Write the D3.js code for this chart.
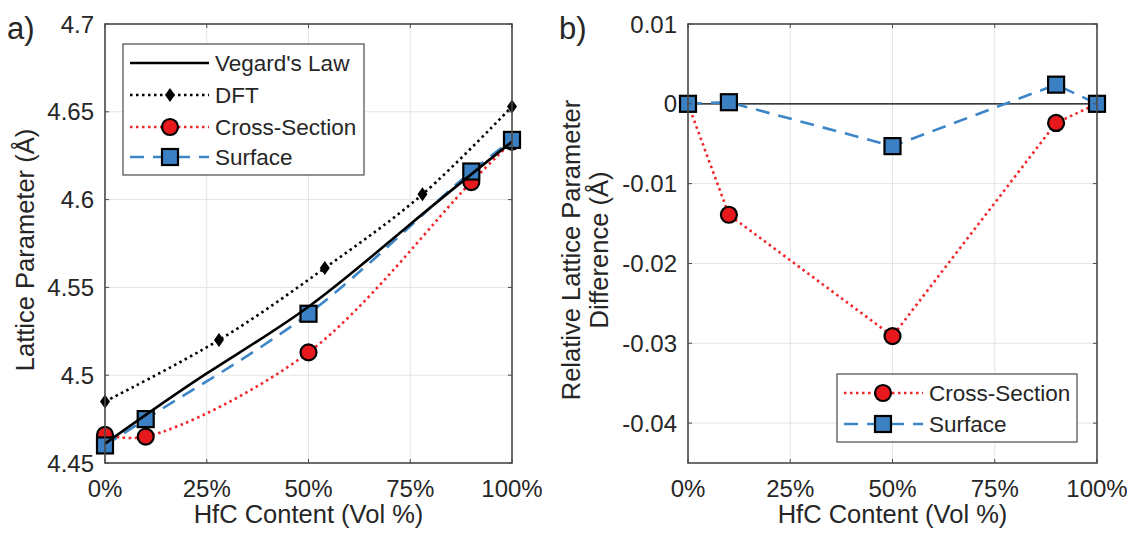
<!DOCTYPE html>
<html>
<head>
<meta charset="utf-8">
<script src="https://cdn.jsdelivr.net/npm/d3@7"></script>
<style>
  body { margin: 0; background: #fff; }
  text { font-family: "Liberation Sans", Arial, Helvetica, sans-serif; fill: #262626; }
</style>
</head>
<body>
<div id="chart"></div>
<script>
// ---- data ----
var xTicks = [0, 25, 50, 75, 100];
var xTickLabels = ["0%", "25%", "50%", "75%", "100%"];

var vegardX = [0, 25, 50, 75, 100];
var vegardY = [4.461, 4.501, 4.539, 4.586, 4.633];

var dftX = [0, 28, 54, 78, 100];
var dftY = [4.485, 4.520, 4.561, 4.603, 4.653];

var sampleX = [0, 10, 50, 90, 100];
var crossY = [4.466, 4.465, 4.513, 4.610, 4.633];
var surfaceY = [4.460, 4.475, 4.535, 4.616, 4.634];

var crossDiff = [0, -0.0139, -0.0291, -0.0024, 0];
var surfaceDiff = [0, 0.0002, -0.0053, 0.0024, 0];

var leftYTicks = [4.45, 4.5, 4.55, 4.6, 4.65, 4.7];
var leftYLabels = ["4.45", "4.5", "4.55", "4.6", "4.65", "4.7"];
var rightYTicks = [0.01, 0, -0.01, -0.02, -0.03, -0.04];
var rightYLabels = ["0.01", "0", "-0.01", "-0.02", "-0.03", "-0.04"];

var RED = "#e8191c", REDLINE = "#f2262a", BLUE = "#3a80c2", BLUELINE = "#3c86c8";
var DOTS = "2.5,3.5", DASH = "14,9";

var svg = d3.select("#chart").append("svg").attr("width", 1130).attr("height", 536);

function zip(xs, ys) { return xs.map(function(x, i) { return [x, ys[i]]; }); }

function drawGrid(g, x, y, yTicks) {
  var x0 = x.range()[0], x1 = x.range()[1], yb = y.range()[0], yt = y.range()[1];
  g.selectAll(".gx").data(xTicks).enter().append("line")
    .attr("x1", function(d) { return x(d); }).attr("x2", function(d) { return x(d); })
    .attr("y1", yt).attr("y2", yb).attr("stroke", "#e4e4e4").attr("stroke-width", 1);
  g.selectAll(".gy").data(yTicks).enter().append("line")
    .attr("y1", function(d) { return y(d); }).attr("y2", function(d) { return y(d); })
    .attr("x1", x0).attr("x2", x1).attr("stroke", "#e4e4e4").attr("stroke-width", 1);
}

function drawFrame(g, x, y, yTicks, yLabels) {
  var x0 = x.range()[0], x1 = x.range()[1], yb = y.range()[0], yt = y.range()[1];
  var tl = 4;
  g.append("rect").attr("x", x0).attr("y", yt).attr("width", x1 - x0).attr("height", yb - yt)
    .attr("fill", "none").attr("stroke", "#4a4a4a").attr("stroke-width", 1.6);
  xTicks.forEach(function(d) {
    g.append("line").attr("x1", x(d)).attr("x2", x(d)).attr("y1", yb).attr("y2", yb - tl).attr("stroke", "#4a4a4a");
    g.append("line").attr("x1", x(d)).attr("x2", x(d)).attr("y1", yt).attr("y2", yt + tl).attr("stroke", "#4a4a4a");
  });
  yTicks.forEach(function(d) {
    g.append("line").attr("y1", y(d)).attr("y2", y(d)).attr("x1", x0).attr("x2", x0 + tl).attr("stroke", "#4a4a4a");
    g.append("line").attr("y1", y(d)).attr("y2", y(d)).attr("x1", x1).attr("x2", x1 - tl).attr("stroke", "#4a4a4a");
  });
  g.selectAll(".xl").data(xTicks).enter().append("text")
    .attr("x", function(d) { return x(d); }).attr("y", 497)
    .attr("text-anchor", "middle").attr("font-size", 24)
    .text(function(d, i) { return xTickLabels[i]; });
  g.selectAll(".yl").data(yTicks).enter().append("text")
    .attr("x", x0 - 11).attr("y", function(d) { return y(d) + 8.5; })
    .attr("text-anchor", "end").attr("font-size", 24)
    .text(function(d, i) { return yLabels[i]; });
  g.append("text").attr("x", (x0 + x1) / 2).attr("y", 523)
    .attr("text-anchor", "middle").attr("font-size", 25.5).text("HfC Content (Vol %)");
}

function circle(g, cx, cy) {
  g.append("circle").attr("cx", cx).attr("cy", cy).attr("r", 8)
    .attr("fill", RED).attr("stroke", "#000").attr("stroke-width", 2.2);
}
function square(g, cx, cy) {
  g.append("rect").attr("x", cx - 8).attr("y", cy - 8).attr("width", 16).attr("height", 16)
    .attr("fill", BLUE).attr("stroke", "#000").attr("stroke-width", 2.2);
}
function diamond(g, cx, cy) {
  g.append("path").attr("d", "M" + cx + "," + (cy - 7) + "L" + (cx + 5) + "," + cy + "L" + cx + "," + (cy + 7) + "L" + (cx - 5) + "," + cy + "Z")
    .attr("fill", "#000");
}

// ---- left panel ----
var xa = d3.scaleLinear().domain([0, 100]).range([105, 512]);
var ya = d3.scaleLinear().domain([4.45, 4.7]).range([463, 24]);
var ga = svg.append("g");
drawGrid(ga, xa, ya, leftYTicks);

var curveLine = d3.line().x(function(d) { return xa(d[0]); }).y(function(d) { return ya(d[1]); }).curve(d3.curveCatmullRom.alpha(0.5));

ga.append("path").attr("d", curveLine(zip(dftX, dftY))).attr("fill", "none")
  .attr("stroke", "#000").attr("stroke-width", 2.6).attr("stroke-dasharray", DOTS);
ga.append("path").attr("d", curveLine(zip(sampleX, crossY))).attr("fill", "none")
  .attr("stroke", REDLINE).attr("stroke-width", 2.6).attr("stroke-dasharray", DOTS);
ga.append("path").attr("d", curveLine(zip(sampleX, surfaceY))).attr("fill", "none")
  .attr("stroke", BLUELINE).attr("stroke-width", 2.6).attr("stroke-dasharray", DASH);

zip(dftX, dftY).forEach(function(d) { diamond(ga, xa(d[0]), ya(d[1])); });
zip(sampleX, crossY).forEach(function(d) { circle(ga, xa(d[0]), ya(d[1])); });
zip(sampleX, surfaceY).forEach(function(d) { square(ga, xa(d[0]), ya(d[1])); });
ga.append("path").attr("d", d3.line().x(function(d) { return xa(d[0]); }).y(function(d) { return ya(d[1]); })
    .curve(d3.curveNatural)(zip(vegardX, vegardY))).attr("fill", "none")
  .attr("stroke", "#000").attr("stroke-width", 2.6);

drawFrame(ga, xa, ya, leftYTicks, leftYLabels);

ga.append("text").attr("transform", "translate(34,250) rotate(-90)")
  .attr("text-anchor", "middle").attr("font-size", 25.5).text("Lattice Parameter (Å)");
ga.append("text").attr("x", 7).attr("y", 39).attr("font-size", 31).text("a)");

// left legend
var la = ga.append("g");
la.append("rect").attr("x", 123).attr("y", 44).attr("width", 241).attr("height", 131)
  .attr("fill", "#fff").attr("stroke", "#4a4a4a").attr("stroke-width", 1.2);
var legA = [
  { name: "Vegard's Law", color: "#000", dash: null, marker: null },
  { name: "DFT", color: "#000", dash: DOTS, marker: "diamond" },
  { name: "Cross-Section", color: REDLINE, dash: DOTS, marker: "circle" },
  { name: "Surface", color: BLUELINE, dash: DASH, marker: "square" }
];
var legAy = [63, 95, 127, 157];
legA.forEach(function(d, i) {
  var yy = legAy[i];
  var ln = la.append("line").attr("x1", 130).attr("x2", 209).attr("y1", yy).attr("y2", yy)
    .attr("stroke", d.color).attr("stroke-width", 2.6);
  if (d.dash) ln.attr("stroke-dasharray", d.dash);
  if (d.marker === "diamond") diamond(la, 170, yy);
  if (d.marker === "circle") circle(la, 170, yy);
  if (d.marker === "square") square(la, 170, yy);
  la.append("text").attr("x", 215).attr("y", yy + 8).attr("font-size", 22.5).text(d.name);
});

// ---- right panel ----
var xb = d3.scaleLinear().domain([0, 100]).range([688, 1097]);
var yb = d3.scaleLinear().domain([-0.045, 0.01]).range([463, 24]);
var gb = svg.append("g");
drawGrid(gb, xb, yb, rightYTicks);

gb.append("line").attr("x1", xb(0)).attr("x2", xb(100)).attr("y1", yb(0)).attr("y2", yb(0))
  .attr("stroke", "#000").attr("stroke-width", 1.2);

var straight = d3.line().x(function(d) { return xb(d[0]); }).y(function(d) { return yb(d[1]); });
gb.append("path").attr("d", straight(zip(sampleX, crossDiff))).attr("fill", "none")
  .attr("stroke", REDLINE).attr("stroke-width", 2.6).attr("stroke-dasharray", DOTS);
gb.append("path").attr("d", straight(zip(sampleX, surfaceDiff))).attr("fill", "none")
  .attr("stroke", BLUELINE).attr("stroke-width", 2.6).attr("stroke-dasharray", DASH);
zip(sampleX, crossDiff).forEach(function(d) { circle(gb, xb(d[0]), yb(d[1])); });
zip(sampleX, surfaceDiff).forEach(function(d) { square(gb, xb(d[0]), yb(d[1])); });

drawFrame(gb, xb, yb, rightYTicks, rightYLabels);

gb.append("text").attr("transform", "translate(580,250) rotate(-90)")
  .attr("text-anchor", "middle").attr("font-size", 25.5).text("Relative Lattice Parameter");
gb.append("text").attr("transform", "translate(608,250) rotate(-90)")
  .attr("text-anchor", "middle").attr("font-size", 25.5).text("Difference (Å)");
gb.append("text").attr("x", 559).attr("y", 39).attr("font-size", 31).text("b)");

// right legend
var lb = gb.append("g");
lb.append("rect").attr("x", 837).attr("y", 374).attr("width", 240).attr("height", 68)
  .attr("fill", "#fff").attr("stroke", "#4a4a4a").attr("stroke-width", 1.2);
var legB = [legA[2], legA[3]];
var legBy = [393, 424];
legB.forEach(function(d, i) {
  var yy = legBy[i];
  lb.append("line").attr("x1", 844).attr("x2", 923).attr("y1", yy).attr("y2", yy)
    .attr("stroke", d.color).attr("stroke-width", 2.6).attr("stroke-dasharray", d.dash);
  if (d.marker === "circle") circle(lb, 883, yy);
  if (d.marker === "square") square(lb, 883, yy);
  lb.append("text").attr("x", 929).attr("y", yy + 8).attr("font-size", 22.5).text(d.name);
});
</script>
</body>
</html>
